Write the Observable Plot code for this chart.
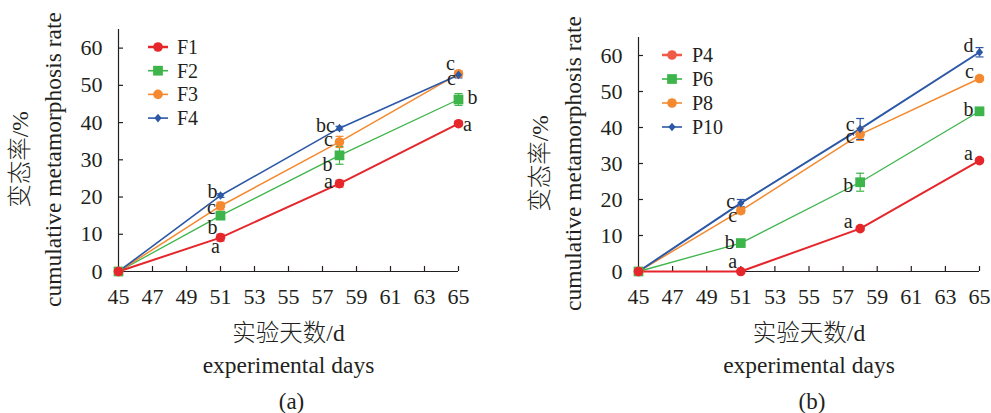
<!DOCTYPE html>
<html>
<head>
<meta charset="utf-8">
<script src="https://cdn.jsdelivr.net/npm/d3@7"></script>
<script src="https://cdn.jsdelivr.net/npm/@observablehq/plot@0.6"></script>
<style>
  html, body { margin: 0; padding: 0; background: #fff; }
  #wrap { position: relative; width: 991px; height: 413px; overflow: hidden; }
  #wrap > svg, #wrap > figure { position: absolute; top: 0; margin: 0; }
  #wrap text { font-family: "Liberation Serif", "Noto Sans CJK SC", serif !important; }
  #wrap text.cjk { font-weight: 300; }
</style>
</head>
<body>
<div id="wrap"></div>
<script>
// ---------- data ----------
const days = [45, 51, 58, 65];
const xTicks = [45, 47, 49, 51, 53, 55, 57, 59, 61, 63, 65];
const yTicks = [0, 10, 20, 30, 40, 50, 60];

// panel (a)
const seriesA = ["F1", "F2", "F3", "F4"];
const F1 = [0, 9.1, 23.6, 39.7];
const F2 = [0, 15.0, 31.2, 46.2];
const F3 = [0, 17.6, 34.8, 53.1];
const F4 = [0, 20.4, 38.5, 52.8];
const F1err = [0, 0.9, 0.9, 0.6];
const F2err = [0, 1.0, 2.4, 1.6];
const F3err = [0, 1.0, 1.5, 0.8];
const F4err = [0, 0.5, 0.5, 0.8];
const F1sig = ["", "a", "a", "a"];
const F2sig = ["", "b", "b", "b"];
const F3sig = ["", "c", "c", "c"];
const F4sig = ["", "b", "bc", "c"];

// panel (b)
const seriesB = ["P4", "P6", "P8", "P10"];
const P4 = [0, 0, 11.9, 30.8];
const P6 = [0, 7.9, 24.8, 44.5];
const P8 = [0, 16.9, 38.1, 53.6];
const P10 = [0, 19.0, 39.6, 60.9];
const P4err = [0, 0, 0.5, 0.5];
const P6err = [0, 0.8, 2.5, 0.8];
const P8err = [0, 0.8, 1.7, 0.6];
const P10err = [0, 1.0, 2.9, 1.3];
const P4sig = ["", "a", "a", "a"];
const P6sig = ["", "b", "b", "b"];
const P8sig = ["", "c", "c", "c"];
const P10sig = ["", "c", "c", "d"];

// ---------- styles (label placement offsets in px) ----------
const labelOffA = [
  [null, [-5, 9], [-11, -2], [9, 1]],
  [null, [-8, 12], [-12, 9], [14, -2]],
  [null, [-9, 2], [-11, -2], [-7, 5]],
  [null, [-8, -4], [-14, -3], [-8, -11]]
];
const labelOffB = [
  [null, [-8, -10], [-12, -7], [-11, -7]],
  [null, [-11, 0], [-12, 3], [-11, -2]],
  [null, [-8, 5], [-10, 2], [-10, -7]],
  [null, [-10, -2], [-10, -4], [-11, -7]]
];
const colors = ["#e5262b", "#3db54a", "#f4892f", "#2c58a6"];
const FONT = "Liberation Serif, Noto Sans CJK SC, serif";
const INK = "#231f20";

const diamond = {
  draw(ctx, size) {
    const s = Math.sqrt(size / Math.PI);
    ctx.moveTo(0, -s * 1.2); ctx.lineTo(s, 0); ctx.lineTo(0, s * 1.2); ctx.lineTo(-s, 0); ctx.closePath();
  }
};
const cap = {
  draw(ctx, size) {
    const s = Math.sqrt(size / Math.PI);
    ctx.moveTo(-s, 0); ctx.lineTo(s, 0);
  }
};
const symbols = ["circle", "square", "circle", diamond];
const radii = [4.8, 5.5, 4.8, 3.6];

function rows(vals, errs, sigs) {
  return days.map((d, i) => ({day: d, value: vals[i], err: errs[i], sig: sigs[i], i}));
}

function panel({names, data, offsets, widths, width, left, marginLeft, marginRight, marginTop, tag, legend}) {
  const T = {fill: INK, fontFamily: FONT};
  const marks = [
    Plot.ruleX([45], {y1: 0, y2: 65, stroke: INK, strokeWidth: 1.2}),
    Plot.ruleY([0], {stroke: INK, strokeWidth: 1.2}),
    Plot.axisX(xTicks, {tickSize: 5, dy: -5, text: null, label: null, stroke: INK, strokeWidth: 1.2}),
    Plot.axisX(xTicks, {tickSize: 0, tickPadding: 17, label: null, fontSize: 22, ...T}),
    Plot.axisY(yTicks, {tickSize: 5, dx: 5, text: null, label: null, stroke: INK, strokeWidth: 1.2}),
    Plot.axisY(yTicks, {tickSize: 0, tickPadding: 16, label: null, fontSize: 22, ...T})
  ];
  const order = [1, 2, 3, 0];
  for (const k of order) {
    marks.push(Plot.line(data[k], {x: "day", y: "value", stroke: colors[k], strokeWidth: widths[k]}));
  }
  for (const k of order) {
    const r = data[k].filter(d => d.err > 0);
    marks.push(Plot.ruleX(r, {x: "day", y1: d => d.value - d.err, y2: d => d.value + d.err, stroke: colors[k], strokeWidth: 1.2}));
    marks.push(Plot.dot(r, {x: "day", y: d => d.value - d.err, symbol: cap, r: 4, stroke: colors[k], strokeWidth: 1.2, fill: "none"}));
    marks.push(Plot.dot(r, {x: "day", y: d => d.value + d.err, symbol: cap, r: 4, stroke: colors[k], strokeWidth: 1.2, fill: "none"}));
  }
  for (const k of order) {
    marks.push(Plot.dot(data[k], {x: "day", y: "value", symbol: symbols[k], r: radii[k], fill: colors[k], stroke: "none"}));
  }
  data.forEach((r, k) => {
    r.forEach((d, i) => {
      if (!d.sig) return;
      const [dx, dy] = offsets[k][i];
      marks.push(Plot.text([d], {x: "day", y: "value", text: "sig", dx, dy, fontSize: 20, ...T}));
    });
  });
  const C = {textAnchor: "middle", lineAnchor: "middle", ...T};
  marks.push(
    Plot.text(["cumulative metamorphosis rate"], {text: d => d, frameAnchor: "left", rotate: -90, dx: -65, dy: 9, fontSize: 23.5, ...C}),
    Plot.text(["变态率/%"], {text: d => d, frameAnchor: "left", rotate: -90, dx: -98, dy: 9, fontSize: 23.5, className: "cjk", ...C}),
    Plot.text(["实验天数/d"], {text: d => d, frameAnchor: "bottom", dy: 62, fontSize: 23.5, className: "cjk", ...C}),
    Plot.text(["experimental days"], {text: d => d, frameAnchor: "bottom", dy: 94, fontSize: 23.5, ...C}),
    Plot.text([tag], {text: d => d, frameAnchor: "bottom", dy: 130, dx: 3, fontSize: 23, ...C})
  );
  const chart = Plot.plot({
    width, height: 413, marginLeft, marginRight, marginTop, marginBottom: 142,
    x: {domain: [45, 65], label: null},
    y: {domain: [0, 65], label: null},
    style: {fontFamily: FONT, fontSize: "22px", background: "transparent", color: INK, overflow: "visible"},
    marks
  });
  chart.style.left = left + "px";
  // mark CJK titles so their weight can be lightened
  d3.select(chart).selectAll("text").filter(function() { return /[\u4e00-\u9fff]/.test(this.textContent); }).classed("cjk", true);
  document.getElementById("wrap").appendChild(chart);

  // legend overlay
  const svg = d3.select("#wrap").append("svg")
    .attr("width", 991).attr("height", 413)
    .style("left", "0px").style("pointer-events", "none");
  names.forEach((n, k) => {
    const y = legend.y0 + k * legend.step;
    const col = legend.colors ? legend.colors[k] : colors[k];
    svg.append("line").attr("x1", legend.x1).attr("x2", legend.x2).attr("y1", y).attr("y2", y)
      .attr("stroke", col).attr("stroke-width", k === 0 ? 2.5 : 1.6);
    const sym = typeof symbols[k] === "string" ? (symbols[k] === "circle" ? d3.symbolCircle : d3.symbolSquare) : symbols[k];
    svg.append("path").attr("d", d3.symbol(sym, radii[k] * radii[k] * Math.PI)())
      .attr("transform", `translate(${(legend.x1 + legend.x2) / 2},${y})`).attr("fill", col);
    svg.append("text").attr("x", legend.tx).attr("y", y).attr("dy", "0.34em")
      .attr("font-family", FONT).attr("font-size", 20).attr("fill", INK).text(n);
  });
}

panel({
  names: seriesA,
  data: [rows(F1, F1err, F1sig), rows(F2, F2err, F2sig), rows(F3, F3err, F3sig), rows(F4, F4err, F4sig)],
  offsets: labelOffA,
  widths: [2, 1.3, 1.5, 1.6],
  width: 500, left: 0, marginLeft: 118, marginRight: 42, marginTop: 29, tag: "(a)",
  legend: {x1: 148, x2: 168, tx: 177, y0: 47, step: 23.7}
});
panel({
  names: seriesB,
  data: [rows(P4, P4err, P4sig), rows(P6, P6err, P6sig), rows(P8, P8err, P8sig), rows(P10, P10err, P10sig)],
  offsets: labelOffB,
  widths: [2, 1.3, 1.5, 2],
  width: 491, left: 500, marginLeft: 138, marginRight: 12, marginTop: 37, tag: "(b)",
  legend: {x1: 662, x2: 682, tx: 692, y0: 55, step: 24, colors: ["#ef5b47", colors[1], colors[2], colors[3]]}
});
</script>
</body>
</html>
